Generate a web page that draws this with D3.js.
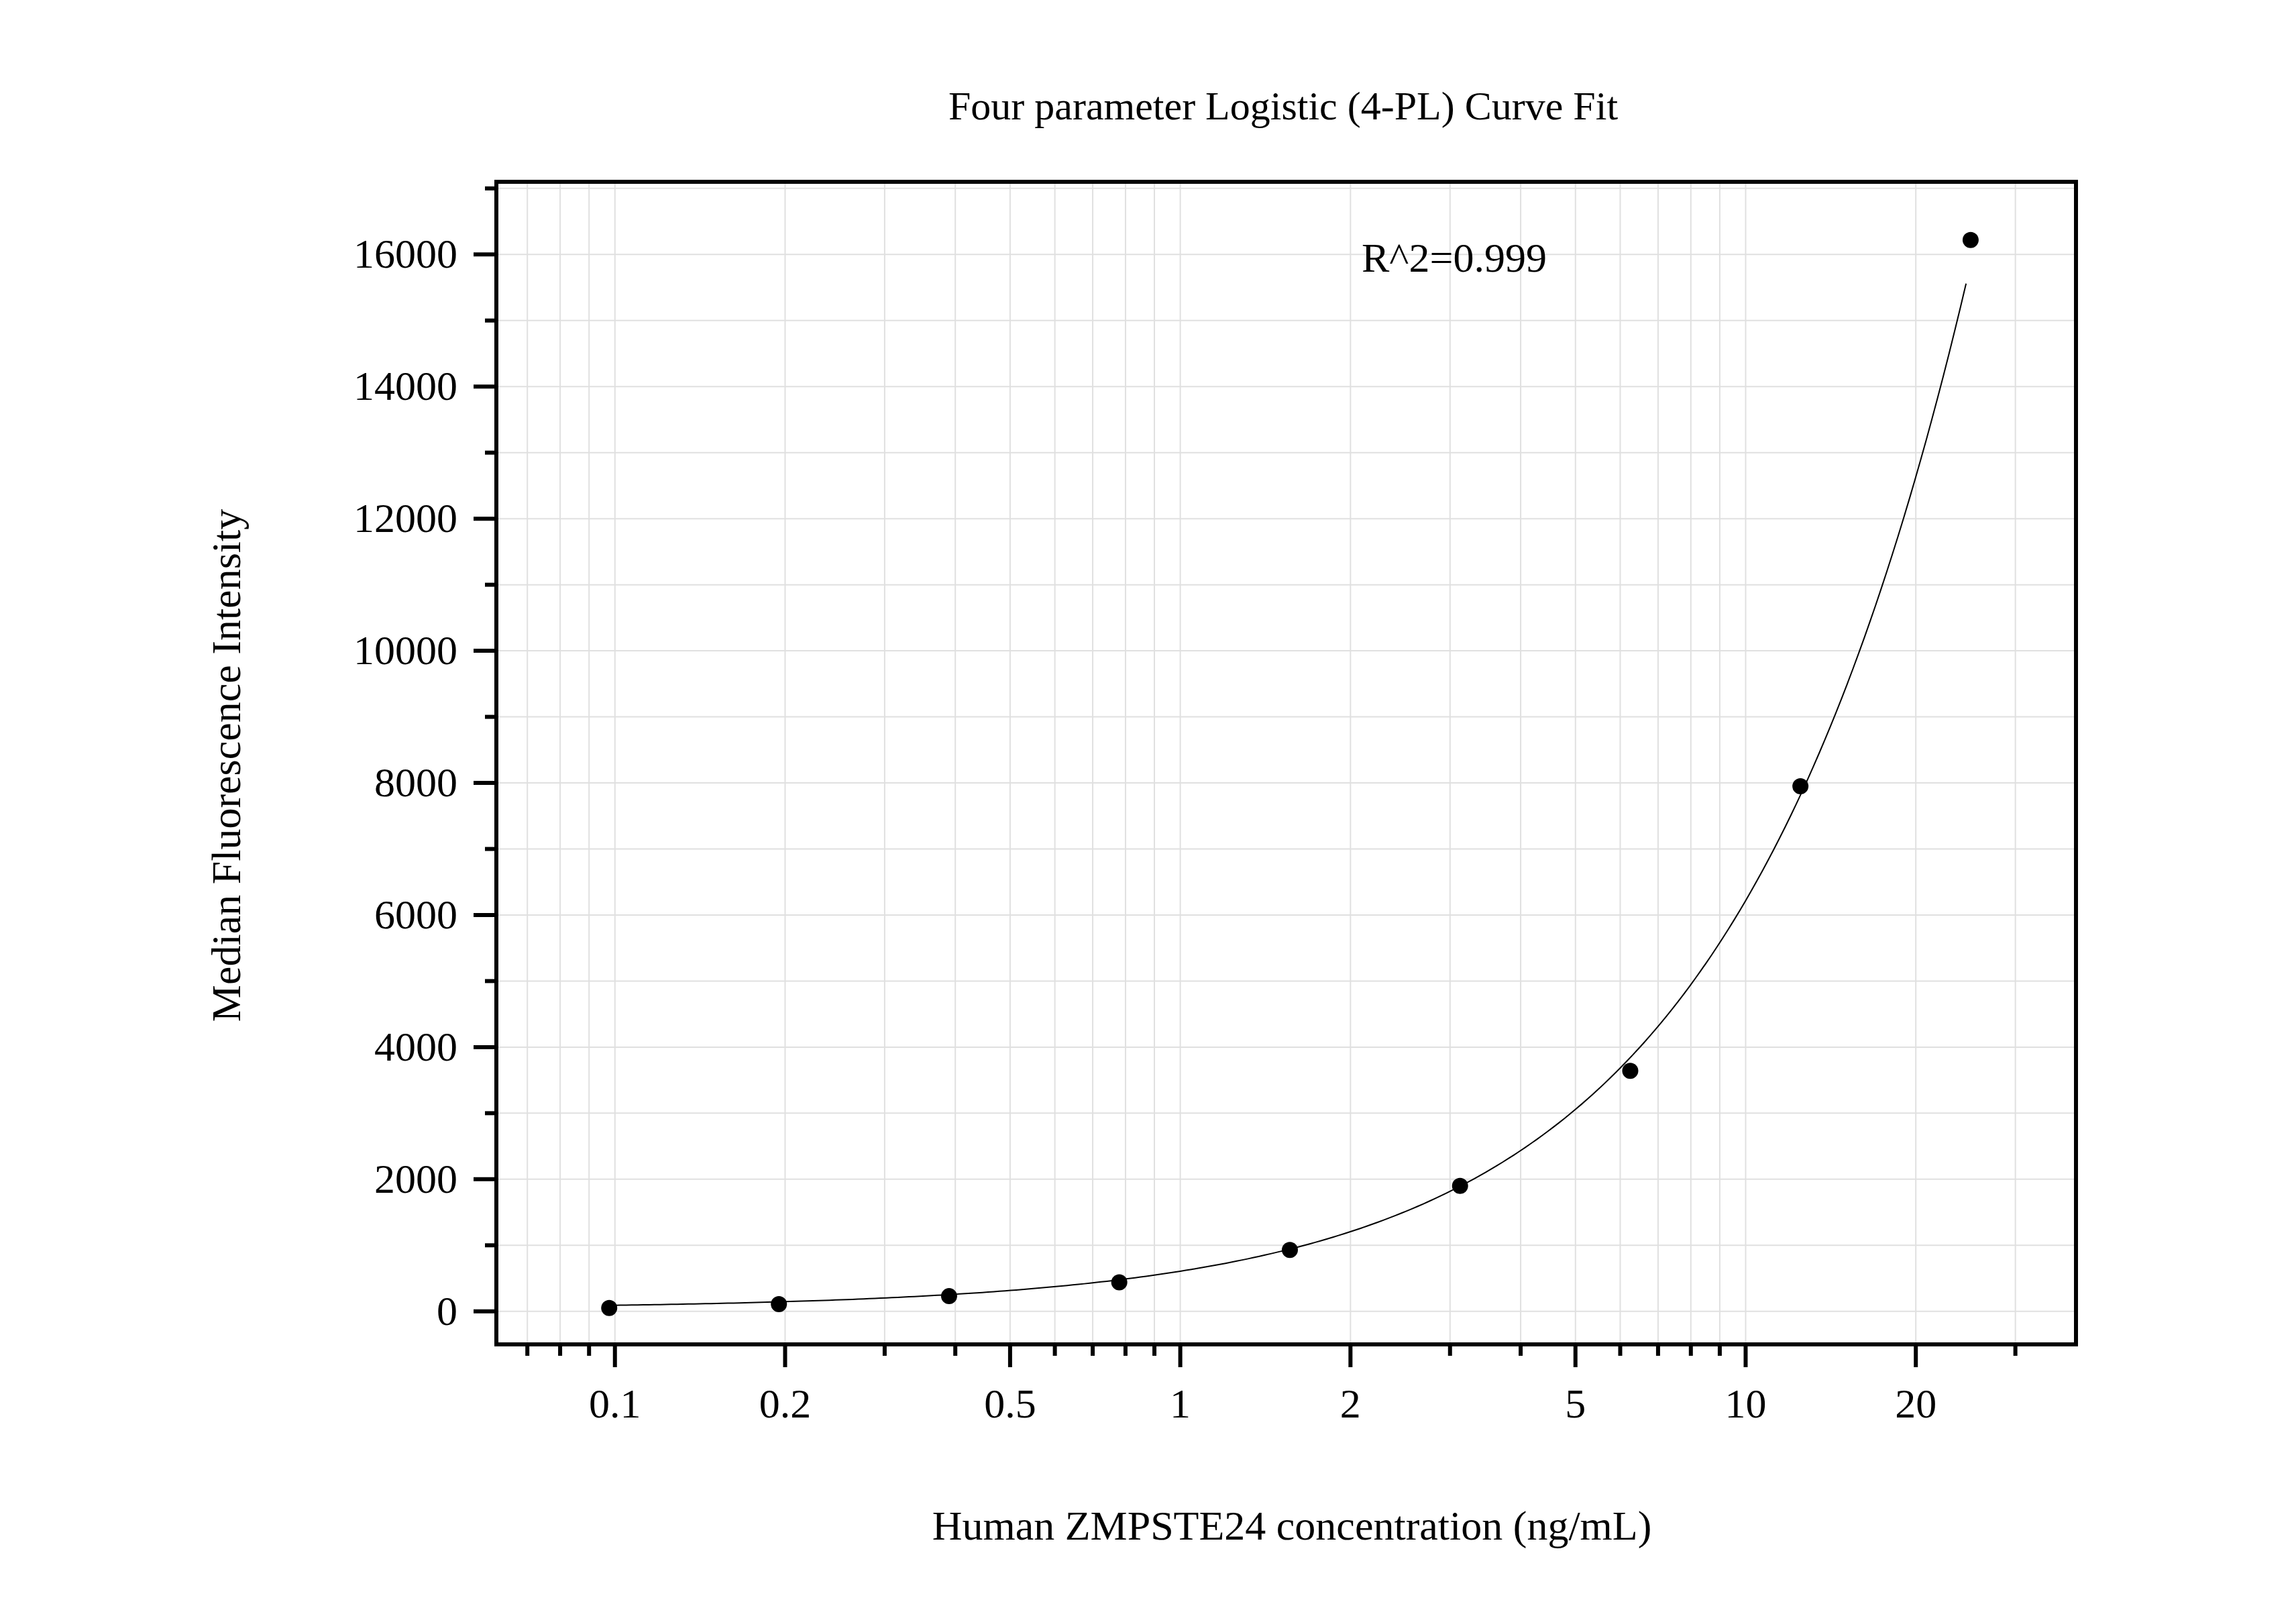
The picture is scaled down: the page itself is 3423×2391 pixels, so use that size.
<!DOCTYPE html>
<html>
<head>
<meta charset="utf-8">
<script src="https://cdn.jsdelivr.net/npm/d3@7"></script>
<style>
  body { margin: 0; background: #fff; }
  text { font-family: "Liberation Serif", "Times New Roman", serif; fill: #000; }
</style>
</head>
<body>
<div id="chart"></div>
<script>
// ---------------------------
// DATA
// ---------------------------
const concentrations = [0.0977, 0.195, 0.39, 0.78, 1.5625, 3.125, 6.25, 12.5, 25];
const intensities = [50, 110, 230, 440, 930, 1900, 3640, 7950, 16220];
const xTickValues = [0.1, 0.2, 0.5, 1, 2, 5, 10, 20];
const yTickValues = [0, 2000, 4000, 6000, 8000, 10000, 12000, 14000, 16000];
// 4-PL fit parameters (bottom, slope, inflection, top)
const fitA = 40, fitB = 1.04, fitC = 1000, fitD = 749000;

const W = 3423, H = 2391;
const plotLeft = 740, plotRight = 3095, plotTop = 271, plotBottom = 2004;

const svg = d3.select("#chart").append("svg")
  .attr("width", W).attr("height", H);

const x = d3.scaleLog().domain([0.0617, 38.4]).range([plotLeft, plotRight]);
const y = d3.scaleLinear().domain([-500, 17100]).range([plotBottom, plotTop]);

// minor log ticks
const xMinor = [];
[0.01, 0.1, 1, 10].forEach(dec => {
  for (let k = 1; k <= 9; k++) {
    const v = +(dec * k).toPrecision(3);
    if (v >= 0.0617 && v <= 38.4) xMinor.push(v);
  }
});
const yMinor = d3.range(0, 17001, 1000);

// ---------------------------
// GRID
// ---------------------------
const grid = svg.append("g").attr("stroke", "#e0e0e0").attr("stroke-width", 2);
grid.selectAll(".gx").data(xMinor).join("line")
  .attr("x1", d => x(d)).attr("x2", d => x(d))
  .attr("y1", plotTop).attr("y2", plotBottom);
grid.selectAll(".gy").data(yMinor).join("line")
  .attr("x1", plotLeft).attr("x2", plotRight)
  .attr("y1", d => y(d)).attr("y2", d => y(d));

// ---------------------------
// AXES (ticks outward)
// ---------------------------
const ticks = svg.append("g").attr("stroke", "#000").attr("stroke-width", 6);
ticks.selectAll(".tx").data(xMinor).join("line")
  .attr("x1", d => x(d)).attr("x2", d => x(d))
  .attr("y1", plotBottom).attr("y2", d => xTickValues.includes(d) ? plotBottom + 34 : plotBottom + 17);
ticks.selectAll(".ty").data(yMinor).join("line")
  .attr("y1", d => y(d)).attr("y2", d => y(d))
  .attr("x1", plotLeft).attr("x2", d => d % 2000 === 0 ? plotLeft - 34 : plotLeft - 17);

svg.selectAll(".xl").data(xTickValues).join("text")
  .attr("x", d => x(d)).attr("y", 2113)
  .attr("text-anchor", "middle").style("font-size", "62px")
  .text(d => d);
svg.selectAll(".yl").data(yTickValues).join("text")
  .attr("x", 682).attr("y", d => y(d) + 20)
  .attr("text-anchor", "end").style("font-size", "62px")
  .text(d => d);

// frame
svg.append("rect")
  .attr("x", plotLeft).attr("y", plotTop)
  .attr("width", plotRight - plotLeft).attr("height", plotBottom - plotTop)
  .attr("fill", "none").attr("stroke", "#000").attr("stroke-width", 6);

// ---------------------------
// CURVE + POINTS
// ---------------------------
const fit = v => fitD + (fitA - fitD) / (1 + Math.pow(v / fitC, fitB));
const curveX = d3.range(Math.log10(concentrations[0]), Math.log10(25) + 0.0001, 0.01).map(v => Math.pow(10, v));
svg.append("path")
  .datum(curveX)
  .attr("d", d3.line().x(d => x(d)).y(d => y(fit(d))))
  .attr("fill", "none").attr("stroke", "#000").attr("stroke-width", 2);

svg.selectAll(".pt").data(concentrations).join("circle")
  .attr("cx", d => x(d)).attr("cy", (d, i) => y(intensities[i]))
  .attr("r", 12).attr("fill", "#000");

// ---------------------------
// TEXT
// ---------------------------
svg.append("text").attr("x", 1913).attr("y", 178)
  .attr("text-anchor", "middle").style("font-size", "60px")
  .text("Four parameter Logistic (4-PL) Curve Fit");
svg.append("text").attr("x", 2030).attr("y", 405)
  .style("font-size", "62px").text("R^2=0.999");
svg.append("text").attr("x", 1926).attr("y", 2295)
  .attr("text-anchor", "middle").style("font-size", "62px")
  .text("Human ZMPSTE24 concentration (ng/mL)");
svg.append("text")
  .attr("transform", "translate(358,1141) rotate(-90)")
  .attr("text-anchor", "middle").style("font-size", "62px")
  .text("Median Fluorescence Intensity");
</script>
</body>
</html>
